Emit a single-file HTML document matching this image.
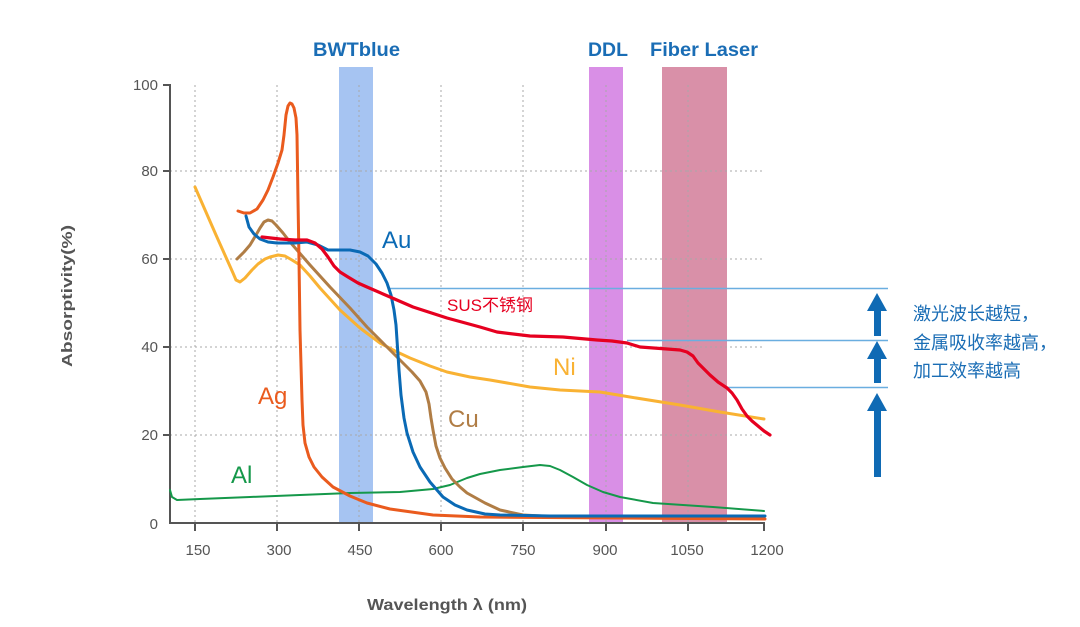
<!DOCTYPE html>
<html>
<head>
<meta charset="utf-8">
<style>
html,body{margin:0;padding:0;background:#fff;}
svg{display:block;}
text{font-family:"Liberation Sans","Noto Sans CJK SC",sans-serif;}
</style>
</head>
<body>
<svg width="1080" height="627" viewBox="0 0 1080 627" xmlns="http://www.w3.org/2000/svg">
<rect width="1080" height="627" fill="#fff"/>

<!-- bands -->
<rect x="339" y="67" width="34" height="456" fill="#a6c4f2"/>
<rect x="589" y="67" width="34" height="456" fill="#d98fe6"/>
<rect x="662" y="67" width="65" height="456" fill="#d990a8"/>

<!-- band labels -->
<g font-weight="bold" font-size="19" fill="#1a6db5">
<text x="313" y="56" textLength="87" lengthAdjust="spacingAndGlyphs">BWTblue</text>
<text x="588" y="56" textLength="40" lengthAdjust="spacingAndGlyphs">DDL</text>
<text x="650" y="56" textLength="108" lengthAdjust="spacingAndGlyphs">Fiber Laser</text>
</g>

<!-- grid -->
<g stroke="#a8a8a8" stroke-width="1" stroke-dasharray="2 3" fill="none">
<line x1="170" y1="171" x2="765" y2="171"/>
<line x1="170" y1="259" x2="765" y2="259"/>
<line x1="170" y1="347" x2="765" y2="347"/>
<line x1="170" y1="435" x2="765" y2="435"/>
<line x1="195" y1="85" x2="195" y2="523"/>
<line x1="277" y1="85" x2="277" y2="523"/>
<line x1="359" y1="85" x2="359" y2="523"/>
<line x1="441" y1="85" x2="441" y2="523"/>
<line x1="523" y1="85" x2="523" y2="523"/>
<line x1="606" y1="85" x2="606" y2="523"/>
<line x1="688" y1="85" x2="688" y2="523"/>
</g>

<!-- annotation lines -->
<g stroke="#6aaee0" stroke-width="1.5">
<line x1="390" y1="288.5" x2="888" y2="288.5"/>
<line x1="627" y1="340.5" x2="888" y2="340.5"/>
<line x1="727" y1="387.5" x2="888" y2="387.5"/>
</g>

<!-- axes -->
<g stroke="#555" stroke-width="2" fill="none">
<polyline points="170,84 170,523 765,523"/>
<line x1="163" y1="85" x2="170" y2="85"/>
<line x1="163" y1="171" x2="170" y2="171"/>
<line x1="163" y1="259" x2="170" y2="259"/>
<line x1="163" y1="347" x2="170" y2="347"/>
<line x1="163" y1="435" x2="170" y2="435"/>
<line x1="195" y1="523" x2="195" y2="531"/>
<line x1="277" y1="523" x2="277" y2="531"/>
<line x1="359" y1="523" x2="359" y2="531"/>
<line x1="441" y1="523" x2="441" y2="531"/>
<line x1="523" y1="523" x2="523" y2="531"/>
<line x1="606" y1="523" x2="606" y2="531"/>
<line x1="688" y1="523" x2="688" y2="531"/>
<line x1="764" y1="523" x2="764" y2="531"/>
</g>

<!-- tick labels -->
<g font-size="15" fill="#555" text-anchor="end">
<text x="158" y="90">100</text>
<text x="158" y="176">80</text>
<text x="158" y="264">60</text>
<text x="158" y="352">40</text>
<text x="158" y="440">20</text>
<text x="158" y="529">0</text>
</g>
<g font-size="15" fill="#555" text-anchor="middle">
<text x="198" y="555">150</text>
<text x="279" y="555">300</text>
<text x="360" y="555">450</text>
<text x="441" y="555">600</text>
<text x="523" y="555">750</text>
<text x="605" y="555">900</text>
<text x="687" y="555">1050</text>
<text x="767" y="555">1200</text>
</g>

<!-- axis titles -->
<text x="0" y="0" font-size="15" font-weight="bold" fill="#555" text-anchor="middle" transform="translate(72,296) rotate(-90)" textLength="142" lengthAdjust="spacingAndGlyphs">Absorptivity(%)</text>
<text x="447" y="610" font-size="16" font-weight="bold" fill="#555" text-anchor="middle" textLength="160" lengthAdjust="spacingAndGlyphs">Wavelength λ (nm)</text>

<!-- curves -->
<g fill="none" stroke-linejoin="round" stroke-linecap="round">
<!-- Al -->
<polyline stroke="#15984a" stroke-width="2" points="170,490 172,497 177,500 200,499 250,497 300,495 350,493 400,492 433,489 450,485 467,478 480,474 500,470 523,467 540,465 550,466 560,470 573,477 587,485 603,492 620,497 653,503 713,507 764,511"/>
<!-- Ni -->
<polyline stroke="#f9b233" stroke-width="3" points="195,187 216,235 233,273 236,280 240,282 245,278 252,270 258,264 265,259 270,257 278,255 285,256 292,260 300,265 310,276 320,288 340,310 360,328 380,343 395,351 410,358 430,366 447,372 470,377 490,380 530,387 560,390 600,392 630,397 680,405 720,412 764,419"/>
<!-- Cu -->
<polyline stroke="#b07d45" stroke-width="3" points="237,259 244,252 250,245 256,235 260,228 264,222 268,220 272,221 276,225 283,233 290,242 310,265 330,287 350,308 367,327 385,345 400,360 412,372 420,381 426,392 429,404 431,418 433,430 436,446 440,458 445,468 452,479 460,487 467,493 485,503 500,510 523,515 560,517"/>
<!-- Ag -->
<polyline stroke="#ea5b1e" stroke-width="3" points="238,211 244,213 250,213 257,209 263,200 268,190 273,177 278,163 282,150 284,135 286,115 288,106 290,103 292,104 294,108 296,118 297,135 298,200 299,260 300,330 302,400 303,425 305,443 309,457 314,467 322,477 333,487 350,496 367,503 390,509 433,515 480,517 765,519"/>
<!-- Au -->
<polyline stroke="#0a6ab5" stroke-width="3" points="246,216 249,227 254,234 260,239 268,242 277,243 295,243 307,242 318,245 328,250 340,250 350,250 360,252 368,256 376,264 382,273 387,283 391,295 394,310 396,325 397,340 399,370 401,395 404,418 407,433 413,452 420,467 430,482 443,497 455,505 467,510 485,514 500,515 550,516 765,516"/>
<!-- SUS -->
<polyline stroke="#e60020" stroke-width="3.2" points="262,237 280,239 295,240 307,240 315,243 322,249 328,257 334,266 340,272 348,277 358,283 367,287 390,297 413,307 447,318 480,327 497,332 530,336 563,337 597,340 612,341 627,343 640,347 667,349 680,350 687,352 693,356 698,363 704,369 710,375 718,382 727,388 732,393 737,400 742,409 747,416 752,421 758,426 764,431 770,435"/>
</g>

<!-- curve labels -->
<text x="382" y="248" font-size="24" fill="#0a6ab5">Au</text>
<text x="447" y="311" font-size="17" fill="#e60020">SUS不锈钢</text>
<text x="553" y="375" font-size="24" fill="#f9b233">Ni</text>
<text x="448" y="427" font-size="24" fill="#b07d45">Cu</text>
<text x="258" y="404" font-size="24" fill="#ea5b1e">Ag</text>
<text x="231" y="483" font-size="24" fill="#15984a">Al</text>

<!-- arrows -->
<g fill="#0f6ab4">
<polygon points="877,293 887,311 881,311 881,336 874,336 874,311 867,311"/>
<polygon points="877,341 887,359 881,359 881,383 874,383 874,359 867,359"/>
<polygon points="877,393 887,411 881,411 881,477 874,477 874,411 867,411"/>
</g>

<!-- right annotation text -->
<g font-size="18" fill="#1a6db5" font-family="'Noto Sans CJK SC',sans-serif">
<text x="913" y="320">激光波长越短，</text>
<text x="913" y="349">金属吸收率越高，</text>
<text x="913" y="377">加工效率越高</text>
</g>
</svg>
</body>
</html>
